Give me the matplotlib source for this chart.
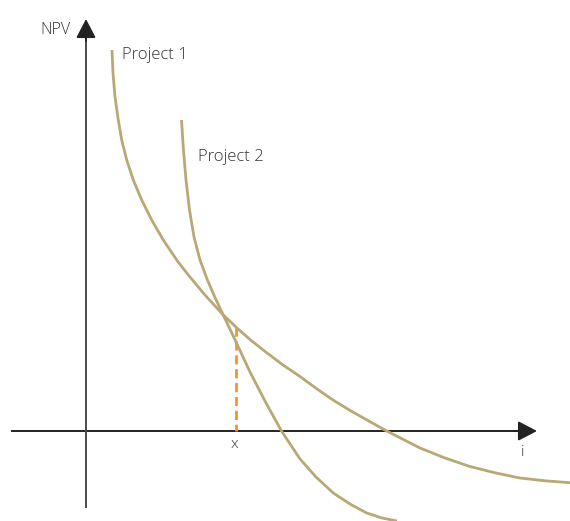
import matplotlib
matplotlib.use("Agg")
import matplotlib.pyplot as plt

# Data (i = interest rate, NPV), origin at the axis crossing
p1_i   = [26, 27, 29, 32.3, 35.7, 40.7, 47.3, 55.7, 65.7, 77.3, 90.7, 102.3,
          119, 137.3, 151, 164, 181, 197, 214, 231, 247, 264, 281, 300.7,
          334, 359, 384, 409, 434, 459, 484]
p1_npv = [381, 358, 334, 311, 291, 271, 251, 231, 211, 191, 171, 156,
          136, 116, 103, 91.5, 78, 66, 54.5, 42, 31, 20.6, 11, 0,
          -17, -27, -35.5, -41.8, -47, -49.8, -51.7]
p2_i   = [95.5, 97.3, 100, 103.5, 108, 114, 121, 129, 137.3, 147, 164, 180,
          195.5, 214, 230, 247.3, 264, 280.7, 296, 311]
p2_npv = [311, 283, 251, 221, 194, 171, 152, 133.5, 116, 95.5, 59, 28,
          0, -28, -46, -62, -73, -82, -87, -90]
cross_i = 150
cross_top = 104
series_names = ["Project 1", "Project 2"]
label_pos = [(36, 376), (112, 274)]

gold = "#b9a875"
orange = "#f39433"
ink = "#222222"
tcol = "#333333"
font = ["Open Sans", "DejaVu Sans"]

fig = plt.figure(figsize=(5.70, 5.21), dpi=100)
ax = fig.add_axes([0, 0, 1, 1])
ax.set_xlim(-86, 484)
ax.set_ylim(-90, 431)
ax.axis("off")

# axes with arrowheads
ax.plot([-75, 440], [0, 0], color=ink, lw=1.4, solid_capstyle="butt")
ax.plot([0, 0], [-77, 400], color="#4a4a4a", lw=1.4, solid_capstyle="butt")
ax.annotate("", xy=(451, 0), xytext=(430, 0),
            arrowprops=dict(arrowstyle="-|>,head_length=1.15,head_width=0.6",
                            color=ink, lw=1.4, shrinkA=0, shrinkB=0))
ax.annotate("", xy=(0, 412), xytext=(0, 390),
            arrowprops=dict(arrowstyle="-|>,head_length=1.15,head_width=0.6",
                            color=ink, lw=1.4, shrinkA=0, shrinkB=0))

# dashed line down to x
ax.plot([cross_i, cross_i], [cross_top, 0], color=orange, lw=2.0,
        dashes=(3.3, 1.7))

# curves
ax.plot(p1_i, p1_npv, color=gold, lw=2.0, solid_capstyle="butt",
        solid_joinstyle="round")
ax.plot(p2_i, p2_npv, color=gold, lw=2.0, solid_capstyle="butt",
        solid_joinstyle="round")

for name, (xx, yy) in zip(series_names, label_pos):
    ax.text(xx, yy, name, fontsize=12, color=tcol, family=font,
            fontweight="light", ha="left", va="center")

ax.text(-16, 401, "NPV", fontsize=11.5, color=tcol, family=font,
        fontweight="light", ha="right", va="center")
ax.text(cross_i - 2, -14, "x", fontsize=11, color=tcol, family=font,
        fontweight="light", ha="center", va="center")
ax.text(436, -21, "i", fontsize=11, color=tcol, family=font,
        fontweight="light", ha="center", va="center")

fig.savefig("out.png", dpi=100)
